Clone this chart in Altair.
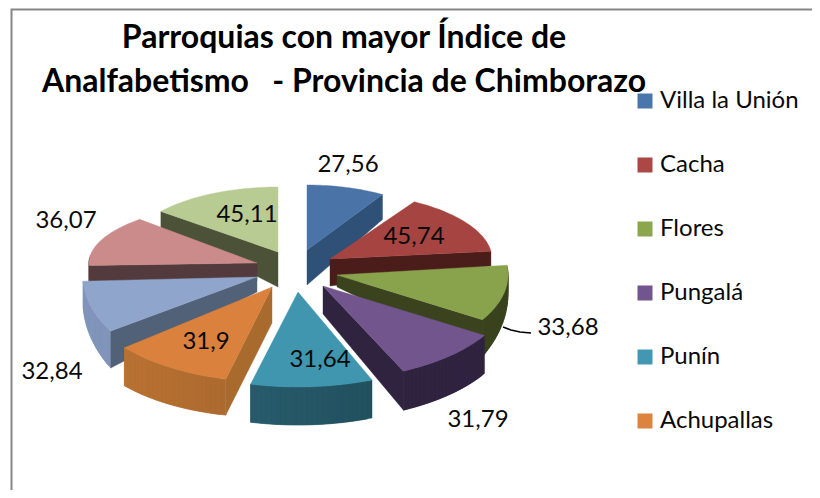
import math
import altair as alt
import pandas as pd

names = ["Villa la Unión", "Cacha", "Flores", "Pungalá", "Punín", "Achupallas",
         "Parroquia 7", "Parroquia 8", "Parroquia 9"]
values = [27.56, 45.74, 33.68, 31.79, 31.64, 31.9, 32.84, 36.07, 45.11]
legend_names = names[:6]
legend_colors = ["#4A76AC", "#AB4744", "#8BA64F", "#71558F", "#4298B2", "#DC843F"]

# appearance of each slice
top_colors = ["#4A74A8", "#A64441", "#89A34C", "#71558C", "#4096AF", "#D9813D",
              "#8FA5CC", "#CB8B8A", "#B8CB93"]
face_colors = ["#2F5178", "#4A1D1B", "#3A431E", "#2F2340", "#2A6070", "#A96A2E",
               "#506178", "#533A3C", "#4C5238"]
wall_left = ["#2F5178", "#4A1D1B", "#3A431E", "#2F2340", "#2F6A7C", "#BC7433",
             "#8296BC", "#6B4A4A", "#4C5238"]
wall_right = ["#2F5178", "#4A1D1B", "#3A431E", "#2F2340", "#1B4450", "#945A28",
              "#72879F", "#6B4A4A", "#4C5238"]
tips = [(307, 250), (330, 259), (337, 275), (323, 286), (298, 292), (272, 287),
        (257, 277), (257, 263), (278, 252)]
radii = [(145, 65), (162, 67), (171, 85), (190, 94), (197, 95), (192, 95),
         (174, 100), (168, 61), (150, 65)]
angle_adjust = [(0, 0), (0, 0), (0, 0), (0, -3), (0, 0), (0, 0), (7, 0), (0, 7), (0, 0)]
depths = [(35, 20, 25), (27, 15, 15), (12, 15, 37), (28, 38, 39), (38, 38, 38),
          (36, 36, 38), (15, 37, 25), (18, 18, 18), (35, 16, 16)]
radial_wall = ["end", "end", "end", "end", None, "start", "start", "start", "start"]
draw_order = [8, 0, 1, 7, 2, 6, 3, 5, 4]

labels = [str(v).replace(".", ",") for v in values]
label_x = [348, 414, 568, 478, 320, 206, 52, 66, 247]
label_y = [165, 237, 328, 420, 360, 342, 372, 221, 215]

leader = [(503, 327), (511, 330), (520, 332), (531, 333)]
frame = [(11.5, 498), (11.5, 9.5), (820, 9.5)]


def mix(a, b, t):
    ca = [int(a[i:i + 2], 16) for i in (1, 3, 5)]
    cb = [int(b[i:i + 2], 16) for i in (1, 3, 5)]
    return "#%02x%02x%02x" % tuple(round(x + (y - x) * t) for x, y in zip(ca, cb))


def feature(pts, fill):
    ring = [list(p) for p in pts] + [list(pts[0])]
    return {"type": "Feature", "properties": {"fill": fill},
            "geometry": {"type": "Polygon", "coordinates": [ring]}}


def line(pts):
    return {"type": "Feature", "properties": {},
            "geometry": {"type": "LineString", "coordinates": [list(p) for p in pts]}}


total = sum(values)
starts = [sum(values[:i]) / total * 360 + angle_adjust[i][0] for i in range(len(values))]
ends = [sum(values[:i + 1]) / total * 360 + angle_adjust[i][1] for i in range(len(values))]

faces = []
for i in draw_order:
    tx, ty = tips[i]
    rx, ry = radii[i]
    d_tip, d_a, d_b = depths[i]
    n = 24
    arc = []
    for k in range(n + 1):
        t = k / n
        ang = math.radians(starts[i] + (ends[i] - starts[i]) * t)
        arc.append((tx + rx * math.sin(ang), ty - ry * math.cos(ang), d_a + (d_b - d_a) * t, ang))
    # outer wall on the part of the rim that faces the viewer; segments overlap to hide seams
    for k in range(n):
        p, q = arc[k], arc[min(k + 2, n)]
        if math.cos((p[3] + q[3]) / 2) < 0.1:
            t = min(1, max(0, ((p[0] + q[0]) / 2 - (tx - rx)) / (2 * rx)))
            faces.append(feature([(p[0], p[1]), (q[0], q[1]), (q[0], q[1] + q[2]), (p[0], p[1] + p[2])],
                                 mix(wall_left[i], wall_right[i], t)))
    # cut face of the slice
    if radial_wall[i]:
        c = arc[0] if radial_wall[i] == "start" else arc[-1]
        faces.append(feature([(tx, ty), (c[0], c[1]), (c[0], c[1] + c[2]), (tx, ty + d_tip)], face_colors[i]))
    faces.append(feature([(tx, ty)] + [(p[0], p[1]) for p in arc], top_colors[i]))

proj = dict(type="identity", scale=1, translate=[-8, -8])

frame_layer = alt.Chart(alt.Data(values=[line(frame)])).mark_geoshape(
    filled=False, stroke="#868686", strokeWidth=2).project(**proj)

pie_layer = alt.Chart(alt.Data(values=faces)).mark_geoshape(strokeWidth=0.4).encode(
    fill=alt.Fill("properties.fill:N", scale=None),
    stroke=alt.Stroke("properties.fill:N", scale=None),
).project(**proj)

leader_layer = alt.Chart(alt.Data(values=[line(leader)])).mark_geoshape(
    filled=False, stroke="#000000", strokeWidth=1.5).project(**proj)

text_layer = alt.Chart(pd.DataFrame({"label": labels, "lx": label_x, "ly": label_y})).mark_text(
    font="Lato", fontSize=24, color="#0a0a0a", align="center", baseline="middle"
).encode(longitude="lx:Q", latitude="ly:Q", text="label:N").project(**proj)

legend_layer = alt.Chart(pd.DataFrame({"name": legend_names})).mark_square(size=0).encode(
    color=alt.Color("name:N",
                    scale=alt.Scale(domain=legend_names, range=legend_colors),
                    legend=alt.Legend(title=None, orient="none", legendX=625, legendY=81,
                                      symbolType="square", symbolSize=225, symbolOpacity=1,
                                      symbolStrokeWidth=0, labelFont="Lato", labelFontSize=24,
                                      labelColor="#0a0a0a", labelOffset=3, rowPadding=40,
                                      padding=0, values=legend_names))
)

chart = alt.layer(frame_layer, pie_layer, leader_layer, text_layer, legend_layer).properties(
    width=804, height=482, padding=0,
    autosize=alt.AutoSizeParams(type="none"),
    title=alt.TitleParams(
        text=["Parroquias con mayor Índice de", "Analfabetismo\u00a0\u00a0\u00a0- Provincia de Chimborazo"],
        font="Lato", fontSize=32, fontWeight="bold", color="#000000", anchor="start",
        align="center", baseline="top", lineHeight=44, dx=336, dy=91, offset=0),
).configure_view(stroke=None)

chart.save("out.html", embed_options={"renderer": "svg", "actions": False})
